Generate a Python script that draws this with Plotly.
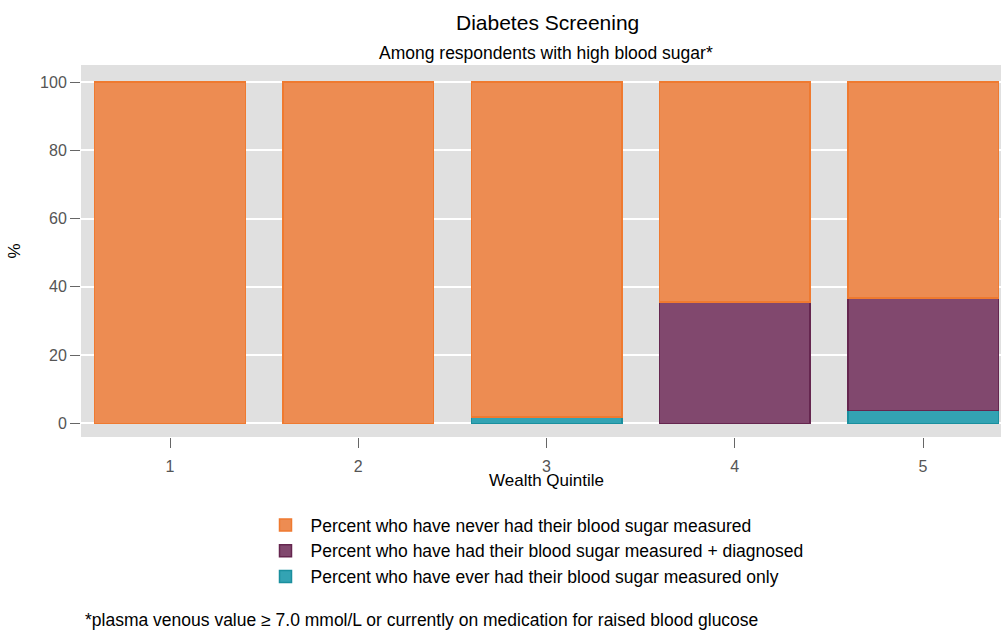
import plotly.graph_objects as go

quintiles = [1, 2, 3, 4, 5]
measured_only = [0, 0, 1.8, 0, 3.8]
measured_diagnosed = [0, 0, 0, 35.5, 32.9]
never_measured = [100, 100, 98.2, 64.5, 63.3]

names = [
    "Percent who have ever had their blood sugar measured only",
    "Percent who have had their blood sugar measured + diagnosed",
    "Percent who have never had their blood sugar measured",
]
fills = ["#33a3b3", "#81486e", "#ed8c52"]
lines = ["#1a8f9e", "#65264f", "#ef7a30"]

fig = go.Figure()
for vals, nm, fc, lc in zip([measured_only, measured_diagnosed, never_measured], names, fills, lines):
    fig.add_trace(go.Bar(x=quintiles, y=vals, name=nm,
                         marker=dict(color=fc, line=dict(color=lc, width=1.5)), width=0.8))

PL, PR, PT, PB = 81, 1001, 65, 437
def px(x):
    return (x - PL) / (PR - PL)
def py(y):
    return (PB - y) / (PB - PT)

fig.update_layout(
    barmode="stack",
    width=1002, height=630,
    paper_bgcolor="white", plot_bgcolor="#e0e0e0",
    font=dict(family="Liberation Sans, Arial, sans-serif", color="black", size=16),
    margin=dict(l=PL, r=1002 - PR, t=PT, b=630 - PB, autoexpand=False),
    showlegend=True,
    legend=dict(orientation="v", x=px(260.5), xanchor="left",
                y=py(507), yanchor="top", traceorder="reversed",
                font=dict(size=17.5), itemwidth=40, tracegroupgap=0),
)
fig.update_xaxes(range=[0.527, 5.414], tickvals=quintiles, ticks="outside", ticklen=10, tickcolor="#666",
                 tickfont=dict(color="#555", size=16), showgrid=False, zeroline=False,
                 ticklabelstandoff=5)
fig.update_yaxes(range=[-4, 105], tickvals=[0, 20, 40, 60, 80, 100], ticks="outside", ticklen=10, tickcolor="#666",
                 tickfont=dict(color="#555", size=16), gridcolor="white", gridwidth=1.5, zeroline=False,
                 title=dict(text="%", font=dict(size=17)))
fig.add_annotation(text="Wealth Quintile", xref="paper", yref="paper", x=px(546), y=py(481),
                   xanchor="center", yanchor="middle", showarrow=False, font=dict(size=17))
fig.add_annotation(text="Diabetes Screening", xref="paper", yref="paper", x=px(547), y=py(22),
                   xanchor="center", yanchor="middle", showarrow=False, font=dict(size=21))
fig.add_annotation(text="Among respondents with high blood sugar*", xref="paper", yref="paper",
                   x=px(546), y=py(53), xanchor="center", yanchor="middle", showarrow=False,
                   font=dict(size=17.5))
fig.add_annotation(text="*plasma venous value ≥ 7.0 mmol/L or currently on medication for raised blood glucose",
                   xref="paper", yref="paper", x=px(83), y=py(620), xanchor="left",
                   yanchor="middle", showarrow=False, font=dict(size=17.5))
fig.write_html("out.html", config={"displayModeBar": False},
               post_script="document.body.style.margin='0';")
